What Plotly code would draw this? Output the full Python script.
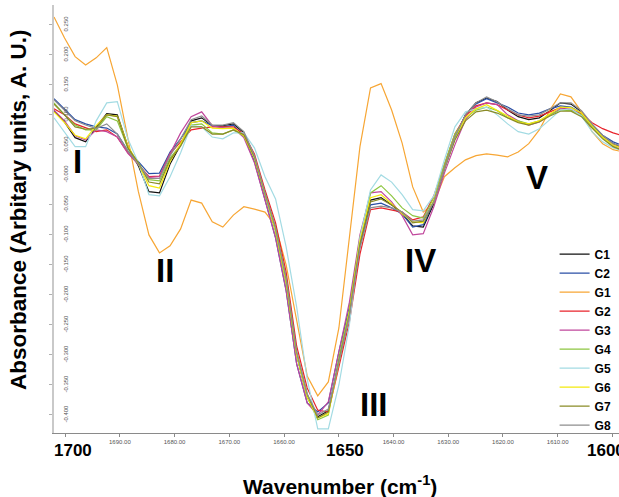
import plotly.graph_objects as go

wavenumber = [1702.04, 1700.11, 1698.18, 1696.26, 1694.33, 1692.40, 1690.47, 1688.54, 1686.62, 1684.69,
              1682.76, 1680.83, 1678.90, 1676.98, 1675.05, 1673.12, 1671.19, 1669.26, 1667.34, 1665.41,
              1663.48, 1661.55, 1659.62, 1657.70, 1655.77, 1653.84, 1651.91, 1649.98, 1648.06, 1646.13,
              1644.20, 1642.27, 1640.34, 1638.42, 1636.49, 1634.56, 1632.63, 1630.70, 1628.78, 1626.85,
              1624.92, 1622.99, 1621.06, 1619.14, 1617.21, 1615.28, 1613.35, 1611.42, 1609.50, 1607.57,
              1605.64, 1603.71, 1601.78, 1599.86, 1597.93]

C1 = [0.107, 0.088, 0.062, 0.055, 0.080, 0.102, 0.100, 0.048, 0.015, -0.028,
      -0.030, 0.018, 0.050, 0.090, 0.095, 0.082, 0.082, 0.085, 0.070, 0.030,
      -0.032, -0.092, -0.178, -0.300, -0.370, -0.403, -0.393, -0.310, -0.232, -0.118,
      -0.042, -0.038, -0.050, -0.065, -0.085, -0.087, -0.048, 0.010, 0.062, 0.100,
      0.120, 0.128, 0.122, 0.108, 0.097, 0.092, 0.095, 0.107, 0.120, 0.118,
      0.105, 0.083, 0.065, 0.052, 0.045]
C2 = [0.127, 0.110, 0.092, 0.085, 0.080, 0.078, 0.068, 0.040, 0.022, 0.002,
      0.003, 0.038, 0.060, 0.087, 0.090, 0.082, 0.080, 0.083, 0.065, 0.022,
      -0.042, -0.105, -0.193, -0.315, -0.380, -0.395, -0.380, -0.295, -0.220, -0.115,
      -0.050, -0.047, -0.055, -0.065, -0.087, -0.083, -0.045, 0.010, 0.060, 0.100,
      0.118, 0.127, 0.120, 0.113, 0.103, 0.100, 0.103, 0.110, 0.115, 0.113,
      0.103, 0.083, 0.066, 0.055, 0.048]
G1 = [0.263, 0.228, 0.197, 0.183, 0.195, 0.212, 0.150, 0.062, -0.028, -0.100,
      -0.130, -0.118, -0.090, -0.042, -0.047, -0.078, -0.087, -0.067, -0.053, -0.057,
      -0.062, -0.085, -0.150, -0.242, -0.335, -0.368, -0.345, -0.255, -0.108, 0.047,
      0.145, 0.152, 0.108, 0.053, -0.020, -0.062, -0.047, -0.003, 0.012, 0.025,
      0.032, 0.035, 0.033, 0.030, 0.038, 0.052, 0.075, 0.108, 0.135, 0.130,
      0.105, 0.072, 0.052, 0.042, 0.038]
G2 = [0.110, 0.100, 0.085, 0.078, 0.072, 0.075, 0.063, 0.037, 0.017, -0.003,
      -0.002, 0.035, 0.055, 0.075, 0.078, 0.080, 0.080, 0.080, 0.068, 0.035,
      -0.025, -0.080, -0.162, -0.285, -0.355, -0.392, -0.395, -0.320, -0.245, -0.132,
      -0.058, -0.055, -0.058, -0.062, -0.075, -0.070, -0.035, 0.015, 0.068, 0.098,
      0.115, 0.120, 0.117, 0.108, 0.100, 0.095, 0.098, 0.105, 0.112, 0.108,
      0.102, 0.087, 0.077, 0.070, 0.065]
G3 = [0.108, 0.090, 0.065, 0.058, 0.075, 0.072, 0.063, 0.036, 0.018, -0.004,
      -0.003, 0.035, 0.070, 0.097, 0.105, 0.082, 0.078, 0.078, 0.062, 0.020,
      -0.042, -0.105, -0.193, -0.315, -0.380, -0.400, -0.378, -0.292, -0.212, -0.100,
      -0.030, -0.028, -0.045, -0.068, -0.100, -0.098, -0.053, 0.003, 0.050, 0.092,
      0.113, 0.120, 0.117, 0.100, 0.090, 0.083, 0.088, 0.100, 0.110, 0.110,
      0.100, 0.080, 0.063, 0.050, 0.043]
G4 = [0.120, 0.100, 0.083, 0.075, 0.075, 0.097, 0.090, 0.045, 0.020, -0.008,
      -0.010, 0.028, 0.050, 0.083, 0.085, 0.070, 0.068, 0.075, 0.065, 0.028,
      -0.032, -0.095, -0.180, -0.300, -0.370, -0.408, -0.400, -0.305, -0.225, -0.105,
      -0.030, -0.018, -0.035, -0.055, -0.068, -0.072, -0.038, 0.018, 0.068, 0.095,
      0.108, 0.113, 0.107, 0.095, 0.090, 0.085, 0.090, 0.100, 0.108, 0.107,
      0.100, 0.080, 0.062, 0.047, 0.040]
G5 = [0.095, 0.070, 0.047, 0.047, 0.090, 0.120, 0.122, 0.060, 0.020, -0.033,
      -0.035, -0.003, 0.037, 0.082, 0.080, 0.063, 0.060, 0.070, 0.070, 0.045,
      -0.003, -0.040, -0.120, -0.220, -0.340, -0.423, -0.423, -0.350, -0.250, -0.105,
      -0.025, 0.000, -0.012, -0.033, -0.058, -0.060, -0.035, 0.025, 0.080, 0.105,
      0.110, 0.113, 0.100, 0.085, 0.072, 0.068, 0.077, 0.092, 0.108, 0.110,
      0.098, 0.072, 0.055, 0.045, 0.040]
G6 = [0.105, 0.087, 0.066, 0.060, 0.082, 0.100, 0.098, 0.048, 0.018, -0.018,
      -0.022, 0.022, 0.052, 0.087, 0.090, 0.078, 0.077, 0.078, 0.065, 0.028,
      -0.032, -0.092, -0.178, -0.300, -0.370, -0.405, -0.398, -0.310, -0.228, -0.110,
      -0.038, -0.033, -0.048, -0.065, -0.078, -0.080, -0.042, 0.010, 0.060, 0.095,
      0.110, 0.117, 0.108, 0.098, 0.088, 0.085, 0.090, 0.102, 0.113, 0.112,
      0.103, 0.082, 0.063, 0.050, 0.043]
G7 = [0.118, 0.100, 0.080, 0.076, 0.078, 0.100, 0.097, 0.045, 0.020, -0.012,
      -0.015, 0.025, 0.048, 0.080, 0.080, 0.068, 0.068, 0.075, 0.067, 0.030,
      -0.030, -0.088, -0.172, -0.295, -0.365, -0.405, -0.395, -0.310, -0.232, -0.115,
      -0.045, -0.040, -0.050, -0.062, -0.080, -0.077, -0.045, 0.010, 0.058, 0.090,
      0.105, 0.108, 0.103, 0.095, 0.087, 0.083, 0.088, 0.098, 0.106, 0.106,
      0.097, 0.078, 0.060, 0.047, 0.040]
G8 = [0.125, 0.108, 0.090, 0.083, 0.077, 0.085, 0.068, 0.040, 0.018, -0.006,
      -0.006, 0.032, 0.060, 0.092, 0.098, 0.083, 0.083, 0.087, 0.072, 0.032,
      -0.030, -0.088, -0.172, -0.295, -0.365, -0.400, -0.390, -0.310, -0.235, -0.122,
      -0.055, -0.052, -0.055, -0.062, -0.077, -0.075, -0.045, 0.010, 0.063, 0.100,
      0.120, 0.130, 0.122, 0.110, 0.100, 0.098, 0.100, 0.110, 0.120, 0.120,
      0.107, 0.085, 0.066, 0.052, 0.046]

series_names = ["C1", "C2", "G1", "G2", "G3", "G4", "G5", "G6", "G7", "G8"]
series_values = [C1, C2, G1, G2, G3, G4, G5, G6, G7, G8]
series_colors = ["#111111", "#2a4fa6", "#f7a634", "#e8232b", "#c0479c",
                 "#8dc640", "#a3dbe3", "#f3ea0c", "#8a8b26", "#8e8e8e"]

x_tick_vals = [1700, 1690, 1680, 1670, 1660, 1650, 1640, 1630, 1620, 1610, 1600]
x_tick_text = ["", "1690.00", "1680.00", "1670.00", "1660.00", "", "1640.00",
               "1630.00", "1620.00", "1610.00", ""]
x_big_labels = [1700, 1650, 1600]

y_tick_vals = [0.25, 0.2, 0.15, 0.1, 0.05, 0.0, -0.05, -0.1, -0.15, -0.2,
               -0.25, -0.3, -0.35, -0.4]
y_tick_text = ["0.250", "0.200", "0.150", "0.100", "0.050", "-0.000", "-0.050",
               "-0.100", "-0.150", "-0.200", "-0.250", "-0.300", "-0.350", "-0.400"]

region_labels = ["I", "II", "III", "IV", "V"]
region_x = [1697.7, 1681.8, 1643.5, 1635.0, 1613.8]
region_y = [0.023, -0.160, -0.383, -0.143, -0.005]

fig = go.Figure()
for name, vals, col in zip(series_names, series_values, series_colors):
    fig.add_trace(go.Scatter(x=wavenumber, y=vals, mode="lines", name=name,
                             line=dict(color=col, width=1.2)))

FONT = "Liberation Sans, Arial, sans-serif"
ann = []
for v in x_big_labels:
    shift = {1700: 8, 1650: 6, 1600: -6}[v]
    ann.append(dict(x=v, y=0, xref="x", yref="paper", yshift=-17, xshift=shift,
                    xanchor="center", yanchor="middle",
                    text="<b>%d</b>" % v, showarrow=False,
                    font=dict(family=FONT, size=17, color="black")))
for t, xx, yy in zip(region_labels, region_x, region_y):
    ann.append(dict(x=xx, y=yy, xref="x", yref="y", text="<b>%s</b>" % t,
                    xanchor="center", yanchor="middle",
                    showarrow=False, font=dict(family=FONT, size=33, color="black")))
ann.append(dict(x=0.506, y=-0.1215, xref="paper", yref="paper",
                xanchor="center", yanchor="middle",
                text="<b>Wavenumber (cm<sup>-1</sup>)</b>", showarrow=False,
                font=dict(family=FONT, size=21, color="black")))
ann.append(dict(x=0, y=0.521, xref="paper", yref="paper", xshift=-36,
                xanchor="center", yanchor="middle",
                text="<b>Absorbance (Arbitary units, A. U.)</b>", textangle=-90,
                showarrow=False, font=dict(family=FONT, size=22.5, color="black")))

fig.update_layout(
    width=619, height=497,
    margin=dict(l=54, r=0, t=5, b=64, autoexpand=False),
    paper_bgcolor="white", plot_bgcolor="white",
    showlegend=True,
    legend=dict(x=0.886, y=0.452, xanchor="left", yanchor="top",
                bgcolor="rgba(0,0,0,0)", borderwidth=0,
                font=dict(family=FONT, size=12, color="black", weight="bold")),
    annotations=ann,
    xaxis=dict(range=[1702.04, 1598.79], showgrid=False, zeroline=False,
               showline=True, linecolor="#8a8a8a", linewidth=1,
               ticks="outside", ticklen=3, tickcolor="#8a8a8a",
               tickvals=x_tick_vals, ticktext=x_tick_text,
               tickfont=dict(family=FONT, size=6, color="#555555")),
    yaxis=dict(range=[-0.43, 0.283], showgrid=False, zeroline=False,
               showline=True, linecolor="#c9c9c9", linewidth=2,
               ticks="outside", ticklen=3, tickcolor="#b0b0b0",
               tickvals=y_tick_vals, ticktext=y_tick_text, tickangle=-90,
               ticklabelstandoff=-21,
               tickfont=dict(family=FONT, size=6, color="#555555")),
)

fig.write_html("out.html", config={"displayModeBar": False},
               post_script="document.body.style.margin='0';")
